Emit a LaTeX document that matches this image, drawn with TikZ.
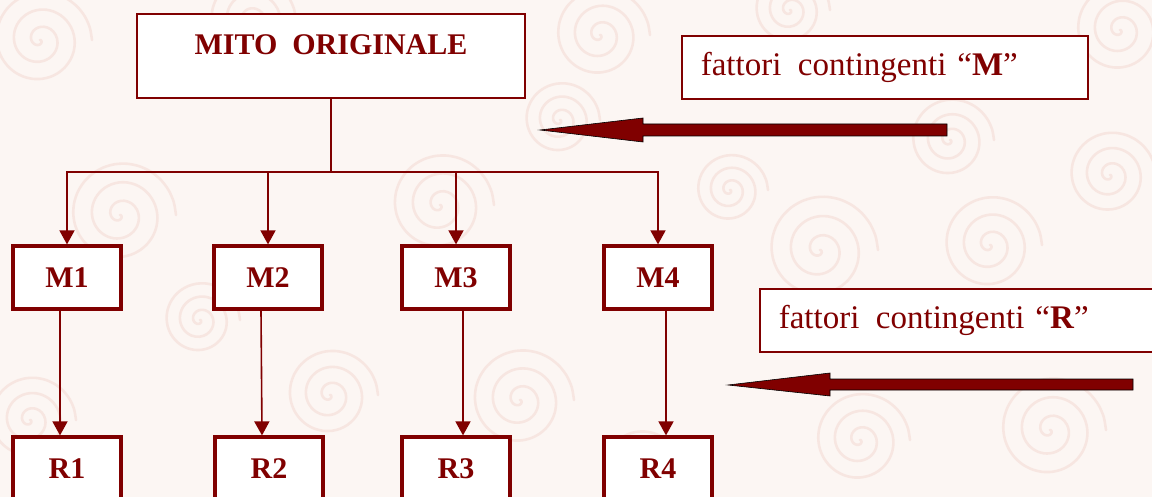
\documentclass[tikz,border=0pt]{standalone}
\usepackage{fontspec}
\setmainfont{Liberation Serif}
\usetikzlibrary{arrows.meta}

\definecolor{maroon}{RGB}{128,0,0}
\definecolor{paper}{RGB}{252,246,243}
\definecolor{swirlpink}{RGB}{236,190,180}

\tikzset{
  boxline/.style={draw=maroon, line width=1.6pt, fill=white, inner sep=0pt},
  stagebox/.style={draw=maroon, line width=3.2pt, fill=white, inner sep=0pt,
    minimum width=108pt, minimum height=63pt, text=maroon,
    font=\fontsize{30}{36}\selectfont\bfseries},
  notebox/.style={boxline, minimum height=63pt, text=maroon, anchor=west,
    font=\fontsize{33}{40}\selectfont, align=left, text width=368pt,
    inner xsep=19pt},
  link/.style={draw=maroon, line width=1.6pt},
  linkarrow/.style={link, -{Triangle[length=14pt,width=15pt]}},
  bigarrow/.style={fill=maroon, draw=black, line width=0.6pt, line join=miter},
  swirlline/.style={draw=swirlpink, line width=2.6pt, opacity=0.28, line cap=round},
  pics/swirl/.style={code={
    \draw[swirlline] plot[domain=0:1080, samples=80, smooth]
      (\x:{\x/1080*#1});
  }}
}

\begin{document}
\begin{tikzpicture}[x=1pt, y=-1pt]
  % page frame and paper tone
  \useasboundingbox (0,0) rectangle (1152,497);
  \clip (0,0) rectangle (1152,497);
  \fill[paper] (0,0) rectangle (1152,497);

  % faint swirl texture on the paper
  \foreach \sx/\sy/\sr in {
      40/40/52, 250/20/46, 600/35/50, 790/10/40, 1120/30/50,
      120/215/56, 440/205/54, 560/120/40, 820/250/58, 990/245/52,
      1110/175/46, 330/395/48, 520/400/54, 860/440/50, 1050/430/56,
      200/320/40, 730/190/38, 950/140/44, 30/420/46, 640/470/42}
    \pic at (\sx,\sy) {swirl=\sr};

  % root of the tree
  \node[boxline, text=maroon, text width=388pt, align=center,
        text height=41pt, text depth=43pt,
        font=\fontsize{30}{36}\selectfont\bfseries]
    (mito) at (331,56) {MITO\hspace{0.5em}ORIGINALE};

  % first level: variants M
  \node[stagebox] (m1) at (67,277.5) {M1};
  \node[stagebox] (m2) at (268,277.5) {M2};
  \node[stagebox] (m3) at (456,277.5) {M3};
  \node[stagebox] (m4) at (658,277.5) {M4};

  % second level: variants R
  \node[stagebox] (r1) at (67,468.5) {R1};
  \node[stagebox] (r2) at (269,468.5) {R2};
  \node[stagebox] (r3) at (456,468.5) {R3};
  \node[stagebox] (r4) at (658,468.5) {R4};

  % side notes
  \node[notebox] (fm) at (681,67.5) {fattori\hspace{0.5em}contingenti “\textbf{M}”};
  \node[notebox, text width=391pt] (fr) at (759,320.5) {fattori\hspace{0.5em}contingenti “\textbf{R}”};

  % branching from the root
  \coordinate (split) at (331,172);
  \draw[link] (mito.south) -- (split);
  \draw[linkarrow] (split) -| (m1.north);
  \draw[linkarrow] (split) -| (m2.north);
  \draw[linkarrow] (split) -| (m3.north);
  \draw[linkarrow] (split) -| (m4.north);

  % M -> R
  \draw[linkarrow] ([xshift=-7pt]m1.south) -- ([xshift=-7pt]r1.north);
  \draw[linkarrow] ([xshift=-7pt]m2.south) -- ([xshift=-7pt]r2.north);
  \draw[linkarrow] ([xshift=7pt]m3.south) -- ([xshift=7pt]r3.north);
  \draw[linkarrow] ([xshift=8pt]m4.south) -- ([xshift=8pt]r4.north);

  % heavy block arrows for the contingent factors
  \draw[bigarrow] (540,130) -- (643,118) -- (643,124) -- (947,124)
    -- (947,136) -- (643,136) -- (643,142) -- cycle;
  \draw[bigarrow] (728,385) -- (830,373) -- (830,379) -- (1133,379)
    -- (1133,390) -- (830,390) -- (830,396) -- cycle;
\end{tikzpicture}
\end{document}
